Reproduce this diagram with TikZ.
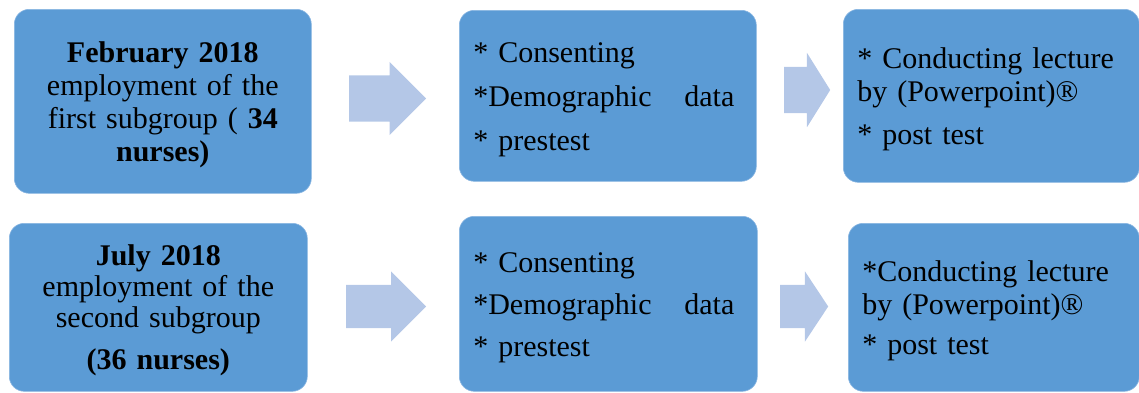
\documentclass[tikz,border=0pt]{standalone}
\usepackage{fontspec}
\setmainfont{Liberation Serif}
\usetikzlibrary{shapes.arrows}
\definecolor{boxblue}{HTML}{5B9BD5}
\definecolor{boxedge}{HTML}{8AB6E2}
\definecolor{arrowblue}{HTML}{B4C7E7}
\begin{document}
\begin{tikzpicture}[
        x=1pt, y=-1pt,
        box/.style={rectangle, rounded corners=15pt, anchor=north west, fill=boxblue, draw=boxedge, line width=0.6pt, inner xsep=14pt, inner ysep=0pt, text height=27pt, font=\fontsize{30}{33}\selectfont},
        flow/.style={single arrow, anchor=tail, fill=arrowblue, draw=none, inner sep=0pt}
    ]
        \useasboundingbox (0,0) rectangle (1139,392);

        % first subgroup
        \node (feb) [box, align=center, text width=269pt, minimum height=184pt] at (14,9) {\textbf{February 2018}\\employment of the\\first subgroup ( \textbf{34}\\\textbf{nurses)}};
        \node (cons1) [box, align=left, text width=269pt, minimum height=171pt] at (459,10) {* Consenting\\[11pt]\makebox[261pt][l]{*Demographic\hfill data}\\[11pt]* prestest};
        \node (lect1) [box, align=left, text width=268pt, minimum height=173pt] at (843,9) {* Conducting lecture\\by (Powerpoint)®\\[10pt]* post test};

        % second subgroup
        \node (jul) [box, align=center, text width=270pt, minimum height=168pt, font=\fontsize{30}{31}\selectfont] at (9,223) {\textbf{July 2018}\\employment of the\\second subgroup\\[11pt]\textbf{(36 nurses)}};
        \node (cons2) [box, align=left, text width=270pt, minimum height=175pt] at (459,216) {* Consenting\\[9pt]\makebox[261pt][l]{*Demographic\hfill data}\\[9pt]* prestest};
        \node (lect2) [box, align=left, text width=263pt, minimum height=168pt] at (848,223) {*Conducting lecture\\by (Powerpoint)®\\[7pt]* post test};

        % block arrows
        \node (goA) [flow, minimum height=77pt, inner ysep=23pt, single arrow head extend=13.5pt] at (349,98.5) {};
        \node (goB) [flow, minimum height=46pt, inner ysep=23pt, single arrow head extend=14pt, single arrow tip angle=116] at (784,90) {};
        \node (goC) [flow, minimum height=80pt, inner ysep=21.5pt, single arrow head extend=13.5pt] at (346,306.5) {};
        \node (goD) [flow, minimum height=48pt, inner ysep=21.5pt, single arrow head extend=13.5pt, single arrow tip angle=113] at (780,306.5) {};
    \end{tikzpicture}
\end{document}
